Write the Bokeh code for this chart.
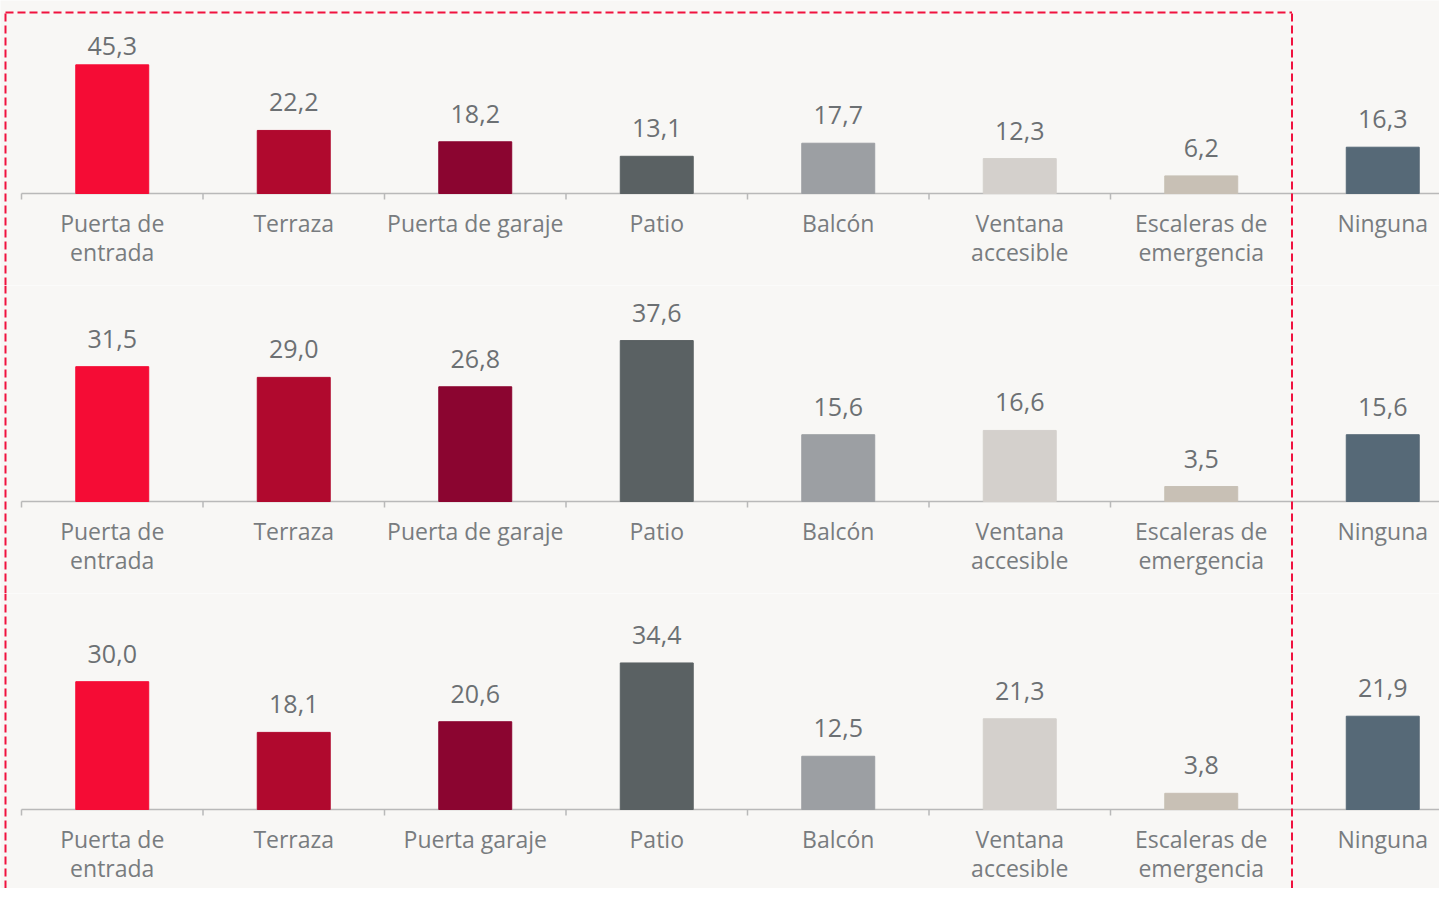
import numpy as np
from bokeh.plotting import figure
from bokeh.models import Range1d, ColumnDataSource
from bokeh.layouts import column
from bokeh.core.properties import value
from bokeh.embed import file_html
from bokeh.resources import INLINE

# ---------------- data ----------------
labels_a = ["Puerta de\nentrada", "Terraza", "Puerta de garaje", "Patio", "Balcón",
            "Ventana\naccesible", "Escaleras de\nemergencia", "Ninguna"]
labels_c = ["Puerta de\nentrada", "Terraza", "Puerta garaje", "Patio", "Balcón",
            "Ventana\naccesible", "Escaleras de\nemergencia", "Ninguna"]
values_1 = [45.3, 22.2, 18.2, 13.1, 17.7, 12.3, 6.2, 16.3]
values_2 = [31.5, 29.0, 26.8, 37.6, 15.6, 16.6, 3.5, 15.6]
values_3 = [30.0, 18.1, 20.6, 34.4, 12.5, 21.3, 3.8, 21.9]
bar_colors = ["#f50c35", "#b0092e", "#8b0530", "#5a6163", "#9c9fa3",
              "#d4d0cc", "#c8c0b5", "#566977"]

# ---------------- style ----------------
BG = "#f8f7f5"
TXT_VAL = "#6c7073"
TXT_CAT = "#787c7f"
AXIS = "#b9b9b9"
BOX = "#f0123f"
FONT = "Open Sans"
W = 1439
CAT_PX = 181.5          # width of one category in pixels
LEFT_PX = 21            # distance from frame left to first category boundary
x0 = -LEFT_PX / CAT_PX
x1 = (W - LEFT_PX) / CAT_PX

rows = [
    dict(vals=values_1, labels=labels_a, h=285, base=193, s=2.84, cap=148, top=True),
    dict(vals=values_2, labels=labels_a, h=308, base=216, s=4.28, cap=None, top=False),
    dict(vals=values_3, labels=labels_c, h=295, base=216, s=4.26, cap=None, top=False),
]

figs = []
n = len(values_1)
for r in rows:
    s = r["s"]
    h = r["h"]
    y1 = r["base"] / s
    y0 = -(h - r["base"]) / s
    p = figure(width=W, height=h, x_range=Range1d(x0, x1), y_range=Range1d(y0, y1),
               output_backend="svg", toolbar_location=None, min_border=0,
               x_axis_location=None, y_axis_location=None,
               background_fill_color=BG, border_fill_color=BG, outline_line_color=None)
    p.grid.visible = False

    xs = np.arange(n) + 0.5
    vals = np.array(r["vals"], dtype=float)
    ly = vals + 28 / s
    if r["cap"] is not None:
        ly = np.minimum(ly, r["cap"] / s)
    src = ColumnDataSource(dict(
        x=xs, top=vals, color=bar_colors, ly=ly,
        lab=[f"{v:.1f}".replace(".", ",") for v in vals],
        cat=r["labels"]))

    # baseline + ticks at category boundaries
    p.segment(x0=[0], y0=[0], x1=[n], y1=[0], line_color=AXIS, line_width=1.5)
    bounds = np.arange(n)
    p.segment(x0=bounds, y0=np.zeros(n), x1=bounds, y1=np.full(n, -6 / s),
              line_color=AXIS, line_width=1.5)

    p.vbar(x="x", top="top", bottom=0, width=0.402, color="color", source=src)
    p.text(x="x", y="ly", text="lab", source=src, text_align="center",
           text_baseline="alphabetic", text_font=value(FONT), text_font_size="25px",
           text_color=TXT_VAL)
    p.text(x="x", y=0, text="cat", source=src, text_align="center",
           text_baseline="top", y_offset=13, text_font=value(FONT),
           text_font_size="23px", text_color=TXT_CAT, text_line_height=0.92)

    # dashed highlight box around the first n-1 categories
    bx0 = (5 - LEFT_PX) / CAT_PX
    bx1 = n - 1
    ytop = y1 - 12 / s if r["top"] else y1
    p.line(x=[bx0, bx0], y=[y0, ytop], line_color=BOX, line_width=2, line_dash="8 4")
    p.line(x=[bx1, bx1], y=[y0, ytop], line_color=BOX, line_width=2, line_dash="8 4")
    if r["top"]:
        p.line(x=[bx0, bx1], y=[ytop, ytop], line_color=BOX, line_width=2, line_dash="8 4")
    figs.append(p)

layout = column(*figs, spacing=0)
open("out.html", "w").write(file_html(layout, INLINE))
